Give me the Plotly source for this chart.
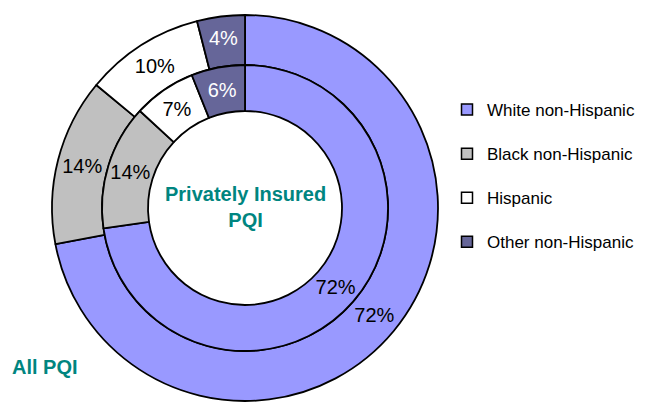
import plotly.graph_objects as go

# --- data ---
groups = ["White non-Hispanic", "Black non-Hispanic", "Hispanic", "Other non-Hispanic"]
all_pqi = [72, 14, 10, 4]
private_pqi = [72, 14, 7, 6]

colors = ["#9999FF", "#C0C0C0", "#FFFFFF", "#666699"]
text_colors = ["black", "black", "black", "white"]
TEAL = "#008580"
FONT = "Liberation Sans, Arial, sans-serif"

# page body has an 8px margin, so work in screen px and shift back
OFF = 8
W, H = 650 - OFF, 403 - OFF


def px_x(x):
    return (x - OFF) / W


def px_y(y):
    return 1 - (y - OFF) / H


def px_domain(cx, cy, r):
    return dict(x=[px_x(cx - r), px_x(cx + r)], y=[px_y(cy + r), px_y(cy - r)])


fig = go.Figure()

fig.add_trace(
    go.Pie(
        labels=groups,
        values=all_pqi,
        domain=px_domain(245, 208, 193),
        hole=143 / 193,
        sort=False,
        direction="clockwise",
        rotation=0,
        marker=dict(colors=colors, line=dict(color="black", width=1.8)),
        texttemplate="%{value}%",
        textposition="inside",
        insidetextorientation="horizontal",
        textfont=dict(family=FONT, size=20, color=text_colors),
        showlegend=False,
        hoverinfo="label+value",
    )
)

fig.add_trace(
    go.Pie(
        labels=groups,
        values=private_pqi,
        domain=px_domain(245, 208, 143),
        hole=97 / 143,
        sort=False,
        direction="clockwise",
        rotation=0,
        marker=dict(colors=colors, line=dict(color="black", width=1.8)),
        texttemplate="%{value}%",
        textposition="inside",
        insidetextorientation="horizontal",
        textfont=dict(family=FONT, size=20, color=text_colors),
        showlegend=False,
        hoverinfo="label+value",
    )
)

# legend entries (separate groups so rows can be spaced out)
for g, c in zip(groups, colors):
    fig.add_trace(
        go.Scatter(
            x=[None],
            y=[None],
            mode="markers",
            name=g,
            legendgroup=g,
            marker=dict(symbol="square", size=11, color=c, line=dict(color="black", width=1.5)),
        )
    )

fig.add_annotation(
    text="<b>Privately Insured<br>PQI</b>",
    x=px_x(245), y=px_y(207), xref="paper", yref="paper",
    xanchor="center", yanchor="middle",
    showarrow=False, font=dict(family=FONT, size=20, color=TEAL),
)
fig.add_annotation(
    text="<b>All PQI</b>",
    x=px_x(10), y=px_y(367), xref="paper", yref="paper",
    xanchor="left", yanchor="middle",
    showarrow=False, font=dict(family=FONT, size=20, color=TEAL),
)

fig.update_layout(
    width=W,
    height=H,
    margin=dict(l=0, r=0, t=0, b=0),
    paper_bgcolor="white",
    plot_bgcolor="white",
    xaxis=dict(visible=False),
    yaxis=dict(visible=False),
    legend=dict(
        x=px_x(447), y=px_y(92), xanchor="left", yanchor="top",
        font=dict(family=FONT, size=17, color="black"),
        tracegroupgap=19,
    ),
)

fig.write_html("out.html")
